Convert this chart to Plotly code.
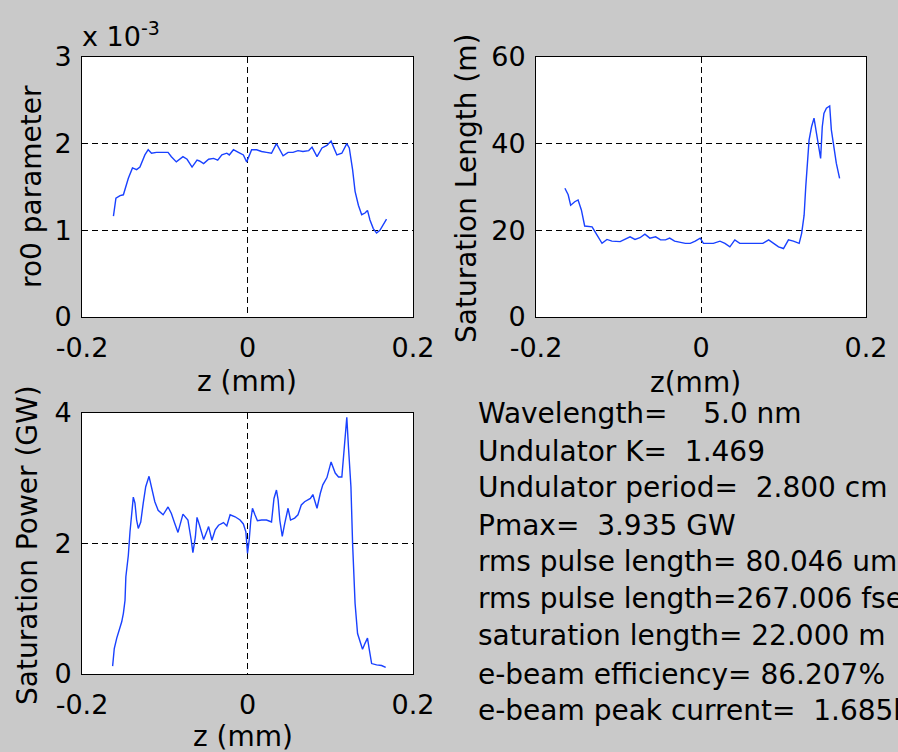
import plotly.graph_objects as go

# ---- data -------------------------------------------------------------
# ro0 parameter along the bunch
z_ro0 = [-0.162, -0.159, -0.154, -0.150, -0.144, -0.139, -0.134, -0.130, -0.124, -0.120,
         -0.116, -0.110, -0.096, -0.092, -0.086, -0.078, -0.073, -0.067, -0.061, -0.058,
         -0.053, -0.047, -0.041, -0.036, -0.031, -0.025, -0.022, -0.017, -0.011, -0.005,
         -0.001, 0.005, 0.011, 0.017, 0.023, 0.029, 0.035, 0.039, 0.043, 0.049,
         0.055, 0.061, 0.067, 0.074, 0.078, 0.084, 0.090, 0.096, 0.101, 0.104,
         0.108, 0.114, 0.120, 0.123, 0.127, 0.130, 0.134, 0.138, 0.142, 0.145,
         0.148, 0.152, 0.156, 0.160, 0.164, 0.168]
ro0 = [1.165e-3, 1.37e-3, 1.40e-3, 1.41e-3, 1.60e-3, 1.72e-3, 1.70e-3, 1.73e-3, 1.87e-3, 1.93e-3,
       1.89e-3, 1.90e-3, 1.90e-3, 1.85e-3, 1.79e-3, 1.85e-3, 1.82e-3, 1.73e-3, 1.81e-3, 1.80e-3,
       1.77e-3, 1.82e-3, 1.83e-3, 1.81e-3, 1.87e-3, 1.89e-3, 1.87e-3, 1.93e-3, 1.90e-3, 1.87e-3,
       1.79e-3, 1.93e-3, 1.93e-3, 1.91e-3, 1.90e-3, 1.89e-3, 2.00e-3, 1.93e-3, 1.86e-3, 1.90e-3,
       1.90e-3, 1.92e-3, 1.91e-3, 1.92e-3, 1.96e-3, 1.85e-3, 1.95e-3, 1.98e-3, 2.03e-3, 1.96e-3,
       1.87e-3, 1.89e-3, 2.00e-3, 1.95e-3, 1.70e-3, 1.45e-3, 1.29e-3, 1.18e-3, 1.20e-3, 1.23e-3,
       1.12e-3, 1.02e-3, 0.97e-3, 1.00e-3, 1.06e-3, 1.13e-3]

# saturation length along the bunch (m)
z_lsat = [-0.165, -0.161, -0.158, -0.153, -0.149, -0.145, -0.141, -0.132, -0.126, -0.120,
          -0.114, -0.108, -0.098, -0.092, -0.086, -0.080, -0.074, -0.068, -0.062, -0.055,
          -0.049, -0.043, -0.038, -0.032, -0.025, -0.019, -0.013, -0.007, -0.001, 0.003,
          0.015, 0.023, 0.029, 0.035, 0.041, 0.047, 0.059, 0.075, 0.082, 0.088,
          0.094, 0.100, 0.106, 0.112, 0.119, 0.122, 0.125, 0.127, 0.129, 0.131,
          0.134, 0.137, 0.140, 0.143, 0.145, 0.147, 0.149, 0.152, 0.156, 0.158,
          0.161, 0.164, 0.168]
lsat = [29.7, 28.2, 25.8, 26.6, 27.0, 24.7, 21.0, 20.8, 18.9, 17.0,
        17.9, 17.5, 17.4, 17.9, 18.5, 17.9, 18.3, 19.1, 18.2, 18.5,
        17.8, 17.8, 18.2, 17.5, 17.2, 17.0, 17.0, 17.5, 18.2, 17.0,
        17.0, 17.5, 17.0, 16.2, 17.8, 17.0, 17.0, 17.0, 17.8, 16.9,
        16.2, 15.8, 17.8, 17.5, 17.0, 19.3, 23.5, 30.1, 36.6, 40.8,
        43.9, 45.9, 42.4, 38.5, 36.6, 43.9, 47.0, 48.2, 48.7, 43.2,
        39.3, 35.5, 32.0]

# saturation power along the bunch (GW)
z_psat = [-0.163, -0.161, -0.158, -0.155, -0.152, -0.150, -0.148, -0.147, -0.144, -0.142,
          -0.140, -0.138, -0.136, -0.134, -0.132, -0.129, -0.126, -0.123, -0.119, -0.116,
          -0.112, -0.108, -0.102, -0.096, -0.092, -0.088, -0.084, -0.078, -0.072, -0.068,
          -0.066, -0.063, -0.061, -0.058, -0.055, -0.053, -0.049, -0.047, -0.043, -0.039,
          -0.035, -0.029, -0.025, -0.021, -0.015, -0.009, -0.005, -0.002, 0.000, 0.002,
          0.004, 0.006, 0.009, 0.012, 0.017, 0.023, 0.029, 0.032, 0.035, 0.037,
          0.039, 0.042, 0.045, 0.049, 0.052, 0.057, 0.061, 0.065, 0.069, 0.076,
          0.079, 0.084, 0.088, 0.091, 0.096, 0.101, 0.106, 0.110, 0.114, 0.117,
          0.120, 0.122, 0.125, 0.127, 0.130, 0.133, 0.136, 0.139, 0.142, 0.145,
          0.147, 0.150, 0.156, 0.162, 0.167]
psat = [0.12, 0.39, 0.55, 0.67, 0.80, 0.93, 1.13, 1.49, 1.82, 2.18,
        2.51, 2.71, 2.62, 2.36, 2.23, 2.33, 2.62, 2.87, 3.03, 2.85,
        2.64, 2.51, 2.44, 2.56, 2.46, 2.31, 2.17, 2.45, 2.36, 2.05,
        1.86, 2.10, 2.40, 2.28, 2.13, 2.06, 2.19, 2.26, 2.05, 2.21,
        2.28, 2.32, 2.27, 2.44, 2.41, 2.36, 2.30, 2.18, 1.85, 2.05,
        2.36, 2.54, 2.44, 2.35, 2.36, 2.36, 2.33, 2.69, 2.82, 2.67,
        2.36, 2.11, 2.31, 2.54, 2.36, 2.39, 2.44, 2.59, 2.64, 2.69,
        2.75, 2.54, 2.77, 2.90, 3.01, 3.25, 3.08, 3.02, 3.02, 3.48,
        3.935, 3.48, 2.87, 2.00, 1.08, 0.62, 0.50, 0.38, 0.47, 0.55,
        0.39, 0.16, 0.14, 0.13, 0.10]

# tick values / labels
z_ticks = [-0.2, 0.0, 0.2]
z_ticklabels = ["-0.2", "0", "0.2"]
ro0_ticks = [0, 1e-3, 2e-3, 3e-3]
ro0_ticklabels = ["0", "1", "2", "3"]
lsat_ticks = [0, 20, 40, 60]
psat_ticks = [0, 2, 4]

# FEL summary parameters
wavelength_nm = 5.0
undulator_k = 1.469
undulator_period_cm = 2.800
p_max_gw = max(psat)
rms_pulse_um = 80.046
rms_pulse_fs = 267.006
sat_length_m = 22.000
ebeam_eff_pct = 86.207
peak_current_ka = 1.685

# ---- styling ----------------------------------------------------------
W, H = 898, 752
BG = "rgb(201,201,201)"
LINE = "rgb(25,65,255)"
FONT = "DejaVu Sans"
TICK_SIZE = 27
LABEL_SIZE = 28
NB = "\u00a0"


def px_x(x):
    return x / W


def px_y(y):
    return 1 - y / H


def axis_common(**kw):
    d = dict(
        showline=True, linecolor="black", linewidth=1, mirror=True,
        showgrid=True, gridcolor="black", gridwidth=1, griddash="6px,4px",
        zeroline=False, ticks="", tickfont=dict(family=FONT, size=TICK_SIZE, color="black"),
        fixedrange=True, automargin=False,
    )
    d.update(kw)
    return d


def x_axis(**kw):
    return axis_common(range=[-0.2, 0.2], tickvals=z_ticks, ticktext=z_ticklabels,
                       ticklabelstandoff=7, **kw)


def y_axis(**kw):
    return axis_common(ticklabelstandoff=4, **kw)


fig = go.Figure()
fig.add_trace(go.Scatter(x=z_ro0, y=ro0, mode="lines", line=dict(color=LINE, width=1.4),
                         xaxis="x", yaxis="y", showlegend=False))
fig.add_trace(go.Scatter(x=z_lsat, y=lsat, mode="lines", line=dict(color=LINE, width=1.4),
                         xaxis="x2", yaxis="y2", showlegend=False))
fig.add_trace(go.Scatter(x=z_psat, y=psat, mode="lines", line=dict(color=LINE, width=1.4),
                         xaxis="x3", yaxis="y3", showlegend=False))

top_y = [px_y(317), px_y(57)]
bot_y = [px_y(674), px_y(413)]
left_x = [px_x(82), px_x(413)]
right_x = [px_x(536), px_x(866)]

fig.update_layout(
    width=W, height=H,
    margin=dict(l=0, r=0, t=0, b=0, autoexpand=False),
    paper_bgcolor=BG, plot_bgcolor="white",
    xaxis=x_axis(domain=left_x, anchor="y"),
    yaxis=y_axis(domain=top_y, anchor="x", range=[0, 3e-3],
                 tickvals=ro0_ticks, ticktext=ro0_ticklabels),
    xaxis2=x_axis(domain=right_x, anchor="y2"),
    yaxis2=y_axis(domain=top_y, anchor="x2", range=[0, 60], tickvals=lsat_ticks),
    xaxis3=x_axis(domain=left_x, anchor="y3"),
    yaxis3=y_axis(domain=bot_y, anchor="x3", range=[0, 4], tickvals=psat_ticks),
)

annotations = []


def label(text, x, y, angle=0, size=LABEL_SIZE, xanchor="center"):
    annotations.append(dict(
        text=text, x=px_x(x), y=px_y(y), xref="paper", yref="paper",
        xanchor=xanchor, yanchor="middle", showarrow=False, textangle=angle,
        font=dict(family=FONT, size=size, color="black"),
    ))


# axis titles
label("z (mm)", 247, 381)
label("ro0 parameter", 31, 187, angle=-90)
label("z(mm)", 695, 382)
label("Saturation Length (m)", 466, 189, angle=-90)
label("z (mm)", 243, 736)
label("Saturation Power (GW)", 27, 545, angle=-90)

# axis multiplier for ro0
label("x 10<sup>-3</sup>", 80, 34, size=TICK_SIZE, xanchor="left")

# summary text block
summary = [
    f"Wavelength={NB * 4}{wavelength_nm:.1f} nm",
    f"Undulator K={NB * 2}{undulator_k:.3f}",
    f"Undulator period={NB * 2}{undulator_period_cm:.3f} cm",
    f"Pmax={NB * 2}{p_max_gw:.3f} GW",
    f"rms pulse length={NB}{rms_pulse_um:.3f} um",
    f"rms pulse length={rms_pulse_fs:.3f} fsec",
    f"saturation length={NB}{sat_length_m:.3f} m",
    f"e-beam efficiency={NB}{ebeam_eff_pct:.3f}%",
    f"e-beam peak current={NB * 2}{peak_current_ka:.3f}kA",
]
line_y = [414, 451, 487, 525, 561, 598, 635, 674, 710]
for txt, yy in zip(summary, line_y):
    label(txt, 476, yy, xanchor="left")

fig.update_layout(annotations=annotations)

fig.write_html("out.html")
